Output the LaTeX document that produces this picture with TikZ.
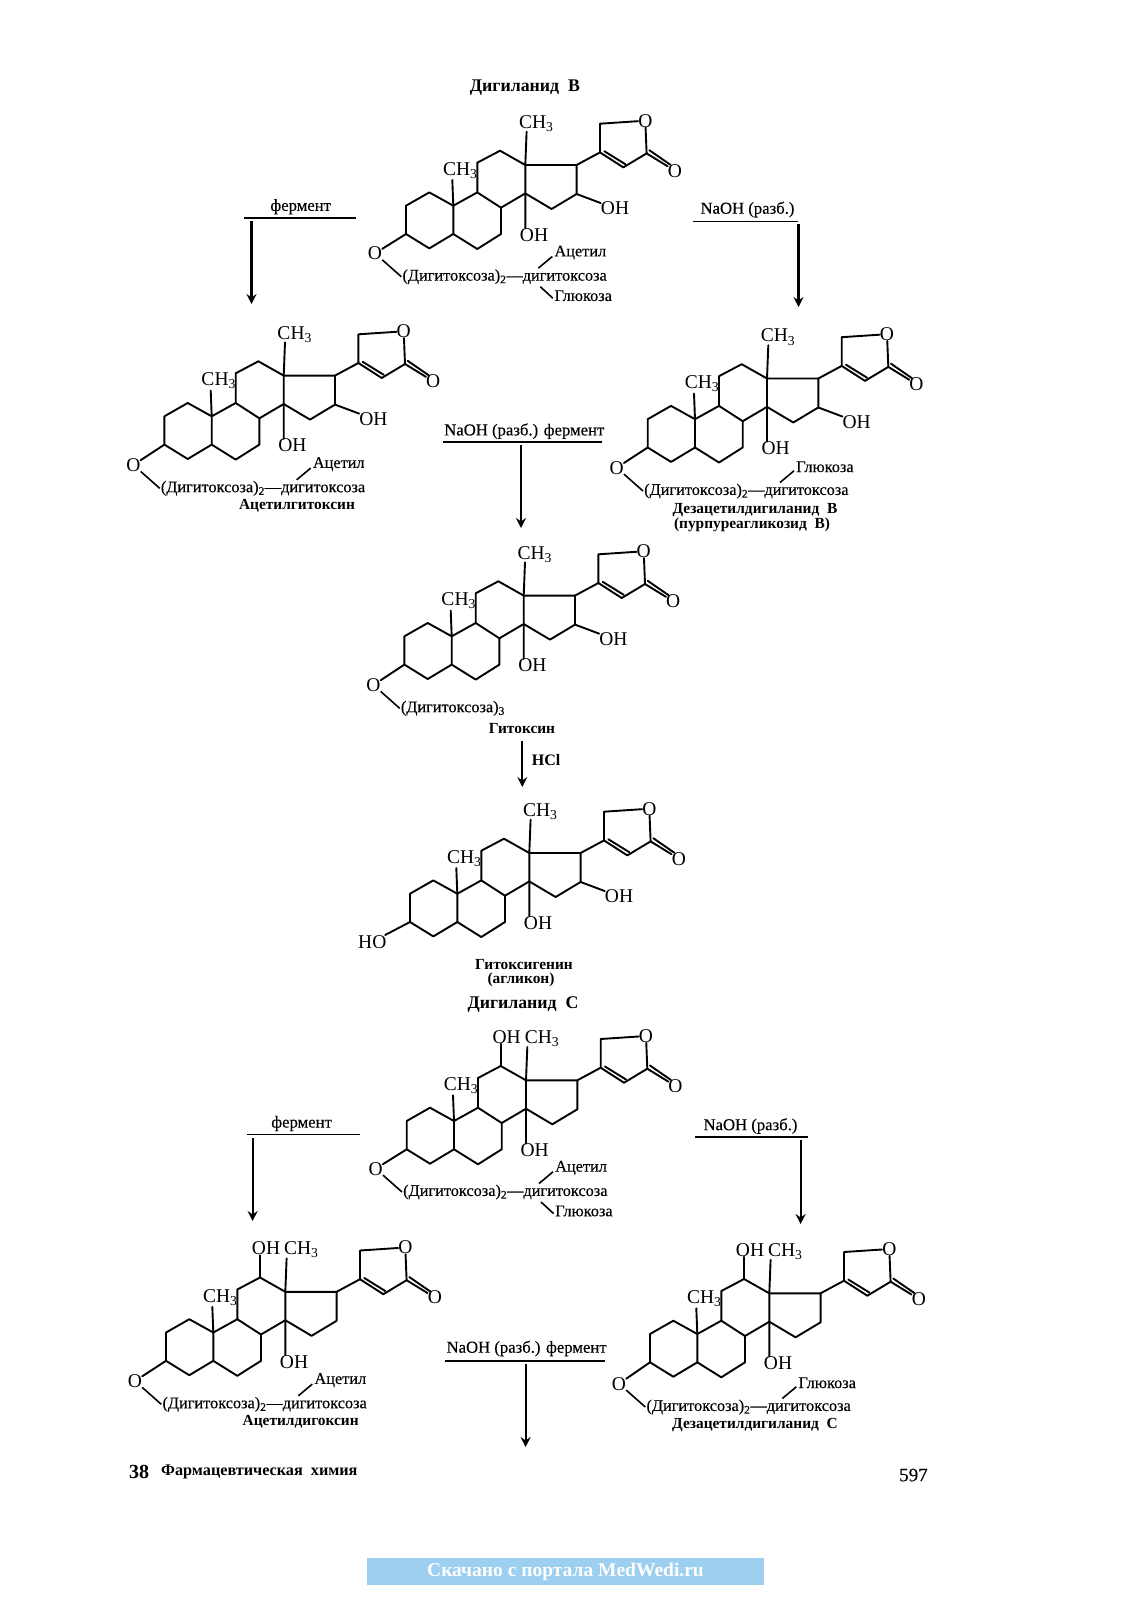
\documentclass[tikz,border=0pt]{standalone}
\usepackage{fontspec}
\setmainfont{Liberation Serif}
\newfontfamily\semib{Liberation Serif}[FakeBold=0.25]
\usetikzlibrary{arrows.meta}
\newcommand{\fs}[1]{\fontsize{#1}{#1}\selectfont}
\tikzset{
  bond/.style={line width=1.9pt,line cap=round,line join=round},
  atom/.style={inner sep=0pt,font=\fs{19.5}},
  base/.style={inner sep=0pt,font=\fs{19.5},anchor=base},
  sugar/.style={inner sep=1pt,font=\semib\fs{16.3},anchor=west},
  title/.style={inner sep=0pt,font=\fs{17.8}\bfseries},
  cname/.style={inner sep=0pt,font=\fs{15.4}\bfseries,yshift=-0.5pt},
  reag/.style={inner sep=0pt,font=\semib\fs{16.7},yshift=1.5pt},
  rulel/.style={line width=1.6pt},
  arr/.style={line width=2.1pt,-{Stealth[length=10pt,width=10pt,inset=3.5pt]}}
}
% common steroid skeleton with lactone; #1 prefix, #2 x, #3 y
\newcommand{\skel}[3]{%
\begin{scope}[shift={(#2,#3)}]
 \coordinate (c10) at (0,0); \coordinate (c1) at (-24,-13.3); \coordinate (c2) at (-47.3,0);
 \coordinate (c3) at (-47.3,28.3); \coordinate (c4) at (-24,42.7); \coordinate (c5) at (0,28.3);
 \coordinate (c9) at (24,-13.3); \coordinate (c8) at (47.7,2); \coordinate (c7) at (47.7,28.3);
 \coordinate (c6) at (24,43.3); \coordinate (c11) at (24,-43); \coordinate (c12) at (46.7,-55);
 \coordinate (c13) at (72,-40.7); \coordinate (c14) at (72,-12.3); \coordinate (c17) at (123.3,-40.7);
 \coordinate (c16) at (123.3,-11.7); \coordinate (c15) at (98.3,3.3); \coordinate (c20) at (146.7,-53.3);
 \coordinate (c21) at (146.7,-82); \coordinate (c22) at (170,-38.3); \coordinate (c23) at (193.3,-52.3);
 \coordinate (m10) at (-1,-25.7); \coordinate (m13) at (73.3,-74);
 \coordinate (d1) at (151,-54.5); \coordinate (d2) at (172,-41.5);
 \coordinate (e1) at (196,-55.5); \coordinate (e2) at (217,-41);
 \node[base] (#1me10) at (7,-30.5) {CH\textsubscript{3}};
 \node[atom] (#1ohb) at (80.7,29.3) {OH};
 \node[atom] (#1ol) at (192,-85) {O};
 \node[atom] (#1oc) at (221.5,-35) {O};
 \draw[bond] (c10)--(c1)--(c2)--(c3)--(c4)--(c5)--cycle;
 \draw[bond] (c10)--(c9)--(c8)--(c7)--(c6)--(c5);
 \draw[bond] (c9)--(c11)--(c12)--(c13)--(c17)--(c16)--(c15)--(c14)--(c8);
 \draw[bond] (c10)--(m10);
 \draw[bond] (m13)--(c13)--(c14)--(c14 |- #1ohb.north);
 \draw[bond] (c17)--(c20)--(c21)--(#1ol);
 \draw[bond] (c20)--(c22)--(c23)--(#1ol);
 \draw[bond] (d1)--(d2);
 \draw[bond] (c23)--(#1oc);
 \draw[bond] (e1)--(e2);
\end{scope}}
% B series: CH3 on top and OH on C16
\newcommand{\seriesB}[3]{%
\begin{scope}[shift={(#2,#3)}]
 \node[base] (#1me13) at (83,-77.3) {CH\textsubscript{3}};
 \node[atom] (#1oh16) at (161.7,2.7) {OH};
\end{scope}
 \draw[bond] (c16)--(#1oh16);}
% C series: OH on C12, plain D ring
\newcommand{\seriesC}[3]{%
\begin{scope}[shift={(#2,#3)}]
 \node[base] (#1me13) at (88,-78) {CH\textsubscript{3}};
 \node[atom] (#1oh12) at (52.7,-84) {OH};
\end{scope}
 \draw[bond] (c12)--(c12 |- #1oh12.south);}
% ether oxygen and the sugar chain
\newcommand{\chain}[4]{%
\begin{scope}[shift={(#2,#3)}]
 \node[atom] (#1o3) at (-78.3,47.7) {O};
 \node[sugar] (#1chain) at (-52,71) {#4};
\end{scope}
 \draw[bond] (c3)--(#1o3);
 \draw[rulel] (#1o3)--(#1chain.west);}
% upper branch #4 text, optional lower branch
\newcommand{\branchup}[4]{%
\begin{scope}[shift={(#2,#3)}]
 \node[sugar] (#1up) at (100,46.8) {#4};
 \coordinate (#1upc) at (85,62.5);
\end{scope}
 \draw[rulel] (#1upc)--([shift={(-1,4)}]#1up.west);}
\newcommand{\branchlow}[3]{%
\begin{scope}[shift={(#2,#3)}]
 \node[sugar] (#1lo) at (100,90) {Глюкоза};
 \coordinate (#1loc) at (87,81);
\end{scope}
 \draw[rulel] (#1loc)--([shift={(-0.5,2.5)}]#1lo.west);}
\newcommand{\reagent}[7]{% name, text x, y, text, x1, x2, ry
 \node[reag] (#1t) at (#2,#3) {#4};
 \coordinate (#1a) at (#5,#7); \coordinate (#1b) at (#6,#7);
 \draw[rulel] (#1a)--(#1b);}
\newcommand{\arrowdown}[4]{% name, x, y1, y2
 \coordinate (#1s) at (#2,#3); \coordinate (#1e) at (#2,#4);
 \draw[arr] (#1s)--(#1e);}
\begin{document}
\begin{tikzpicture}[x=1pt,y=-1pt]
\fill[white] (0,0) rectangle (1131,1600);
\useasboundingbox (0,0) rectangle (1131,1600);

% ---------- Digilanid B
\node[title] (tb) at (525,88) {Дигиланид\ \ В};
\skel{a}{453.3}{205.7}\seriesB{a}{453.3}{205.7}\chain{a}{453.3}{205.7}{(Дигитоксоза)\textsubscript{2}—дигитоксоза}
\branchup{a}{453.3}{205.7}{Ацетил}\branchlow{a}{453.3}{205.7}

\reagent{r1}{300.7}{208.3}{фермент}{244}{356}{217.7}
\arrowdown{v1}{251.5}{221}{304}
\reagent{r2}{747.5}{211}{NaOH (разб.)}{693}{798}{221.5}
\arrowdown{v2}{798.5}{224}{307}

\skel{b}{211.7}{416.3}\seriesB{b}{211.7}{416.3}\chain{b}{211.7}{417.3}{(Дигитоксоза)\textsubscript{2}—дигитоксоза}
\branchup{b}{211.7}{417.3}{Ацетил}
\node[cname] (nb) at (297,505) {Ацетилгитоксин};

\skel{c}{695}{419.2}\seriesB{c}{695}{419.2}\chain{c}{695}{420}{(Дигитоксоза)\textsubscript{2}—дигитоксоза}
\branchup{c}{695}{420}{Глюкоза}
\node[cname] (nc1) at (755,509.5) {Дезацетилдигиланид\ \ В};
\node[cname] (nc2) at (752,524.5) {(пурпуреагликозид\ \ В)};

\reagent{r3}{524.3}{432.7}{NaOH (разб.) фермент}{443.3}{601.7}{442}
\arrowdown{v3}{521}{445}{528}

\skel{d}{451.7}{636.3}\seriesB{d}{451.7}{636.3}\chain{d}{451.7}{637.3}{(Дигитоксоза)\textsubscript{3}}
\node[cname] (nd) at (522,728) {Гитоксин};
\arrowdown{v4}{522.3}{741}{787}
\node[inner sep=0pt,font=\fs{16}\bfseries,anchor=west] (hcl) at (531.7,760) {HCl};

\skel{e}{457.3}{893.7}\seriesB{e}{457.3}{893.7}
\node[atom] (eho) at (372.3,941.7) {HO};
\draw[bond] (c3)--(eho);
\node[cname] (ne1) at (524,964.5) {Гитоксигенин};
\node[cname] (ne2) at (521,979.5) {(агликон)};

% ---------- Digilanid C
\node[title] (tc) at (523,1004.5) {Дигиланид\ \ С};
\skel{f}{454}{1121}\seriesC{f}{454}{1121}\chain{f}{454}{1121}{(Дигитоксоза)\textsubscript{2}—дигитоксоза}
\branchup{f}{454}{1121}{Ацетил}\branchlow{f}{454}{1121}

\reagent{r5}{301.6}{1125}{фермент}{247}{360}{1134.5}
\arrowdown{v5}{252.6}{1138}{1221}
\reagent{r6}{750.5}{1127.5}{NaOH (разб.)}{695}{808}{1137}
\arrowdown{v6}{800.6}{1140}{1224}

\skel{g}{213.3}{1332.5}\seriesC{g}{213.3}{1332.5}\chain{g}{213.3}{1333.3}{(Дигитоксоза)\textsubscript{2}—дигитоксоза}
\branchup{g}{213.3}{1333.3}{Ацетил}
\node[cname] (ng) at (300.7,1421) {Ацетилдигоксин};

\skel{h}{697.3}{1334}\seriesC{h}{697.3}{1334}\chain{h}{697.3}{1336}{(Дигитоксоза)\textsubscript{2}—дигитоксоза}
\branchup{h}{697.3}{1336}{Глюкоза}
\node[cname] (nh) at (755,1425) {Дезацетилдигиланид\ \ С};

\reagent{r7}{526.6}{1350}{NaOH (разб.) фермент}{445}{605}{1361}
\arrowdown{v7}{525.6}{1364}{1447}

% ---------- footer
\node[inner sep=0pt,anchor=west,font=\fs{20}\bfseries] (p38) at (129,1472) {38};
\node[inner sep=0pt,anchor=west,font=\fs{16.2}\bfseries] (foot) at (161,1472) {Фармацевтическая\ \ химия};
\node[inner sep=0pt,anchor=west,font=\semib\fs{19}] (p597) at (899,1475) {597};
\node[fill={rgb,255:red,156;green,207;blue,240},minimum width=397pt,minimum height=27pt,inner sep=0pt,text=white,font=\fs{19.5}\bfseries] (bar) at (565.5,1571.5) {Скачано с портала MedWedi.ru};
\end{tikzpicture}
\end{document}
